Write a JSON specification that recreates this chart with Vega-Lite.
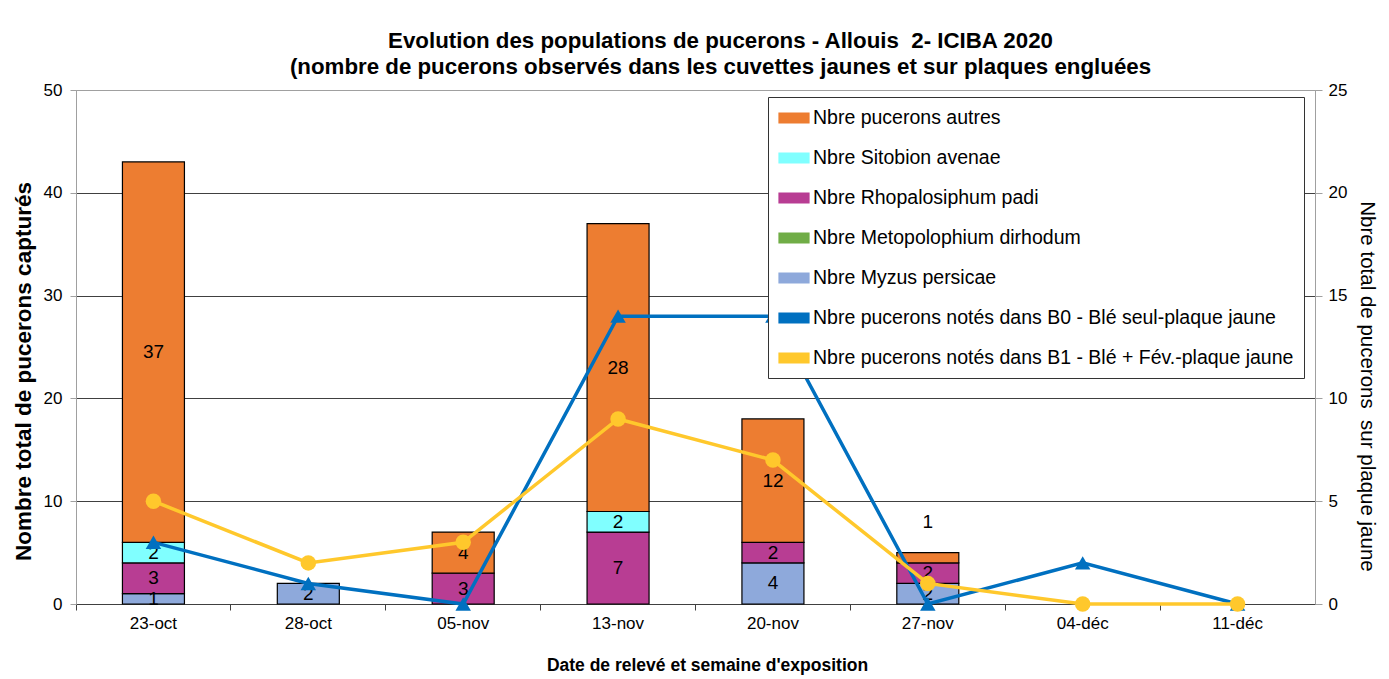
{
  "$schema": "https://vega.github.io/schema/vega-lite/v6.json",
  "width": 1239,
  "height": 514,
  "autosize": {"type": "none"},
  "padding": {"left": 76, "top": 90, "right": 74, "bottom": 75},
  "background": "white",
  "config": {
    "font": "Liberation Sans",
    "view": {"stroke": "#A0A0A0", "strokeWidth": 1}
  },
  "title": {
    "text": ["Evolution des populations de pucerons - Allouis \u00a02- ICIBA 2020", "(nombre de pucerons observés dans les cuvettes jaunes et sur plaques engluées"],
    "fontSize": 22.3,
    "fontWeight": "bold",
    "color": "black",
    "anchor": "middle",
    "dx": 25,
    "offset": 3,
    "lineHeight": 26
  },
  "datasets": {
    "barres": [
      {"date": "23-oct", "serie": "Nbre Myzus persicae", "valeur": 1},
      {"date": "23-oct", "serie": "Nbre Rhopalosiphum padi", "valeur": 3},
      {"date": "23-oct", "serie": "Nbre Sitobion avenae", "valeur": 2},
      {"date": "23-oct", "serie": "Nbre pucerons autres", "valeur": 37},
      {"date": "28-oct", "serie": "Nbre Myzus persicae", "valeur": 2},
      {"date": "05-nov", "serie": "Nbre Rhopalosiphum padi", "valeur": 3},
      {"date": "05-nov", "serie": "Nbre pucerons autres", "valeur": 4},
      {"date": "13-nov", "serie": "Nbre Rhopalosiphum padi", "valeur": 7},
      {"date": "13-nov", "serie": "Nbre Sitobion avenae", "valeur": 2},
      {"date": "13-nov", "serie": "Nbre pucerons autres", "valeur": 28},
      {"date": "20-nov", "serie": "Nbre Myzus persicae", "valeur": 4},
      {"date": "20-nov", "serie": "Nbre Rhopalosiphum padi", "valeur": 2},
      {"date": "20-nov", "serie": "Nbre pucerons autres", "valeur": 12},
      {"date": "27-nov", "serie": "Nbre Myzus persicae", "valeur": 2},
      {"date": "27-nov", "serie": "Nbre Rhopalosiphum padi", "valeur": 2},
      {"date": "27-nov", "serie": "Nbre pucerons autres", "valeur": 1}
    ],
    "courbes": [
      {"date": "23-oct", "serie": "Nbre pucerons notés dans B0 - Blé seul-plaque jaune", "valeur": 3},
      {"date": "28-oct", "serie": "Nbre pucerons notés dans B0 - Blé seul-plaque jaune", "valeur": 1},
      {"date": "05-nov", "serie": "Nbre pucerons notés dans B0 - Blé seul-plaque jaune", "valeur": 0},
      {"date": "13-nov", "serie": "Nbre pucerons notés dans B0 - Blé seul-plaque jaune", "valeur": 14},
      {"date": "20-nov", "serie": "Nbre pucerons notés dans B0 - Blé seul-plaque jaune", "valeur": 14},
      {"date": "27-nov", "serie": "Nbre pucerons notés dans B0 - Blé seul-plaque jaune", "valeur": 0},
      {"date": "04-déc", "serie": "Nbre pucerons notés dans B0 - Blé seul-plaque jaune", "valeur": 2},
      {"date": "11-déc", "serie": "Nbre pucerons notés dans B0 - Blé seul-plaque jaune", "valeur": 0},
      {"date": "23-oct", "serie": "Nbre pucerons notés dans B1 - Blé + Fév.-plaque jaune", "valeur": 5},
      {"date": "28-oct", "serie": "Nbre pucerons notés dans B1 - Blé + Fév.-plaque jaune", "valeur": 2},
      {"date": "05-nov", "serie": "Nbre pucerons notés dans B1 - Blé + Fév.-plaque jaune", "valeur": 3},
      {"date": "13-nov", "serie": "Nbre pucerons notés dans B1 - Blé + Fév.-plaque jaune", "valeur": 9},
      {"date": "20-nov", "serie": "Nbre pucerons notés dans B1 - Blé + Fév.-plaque jaune", "valeur": 7},
      {"date": "27-nov", "serie": "Nbre pucerons notés dans B1 - Blé + Fév.-plaque jaune", "valeur": 1},
      {"date": "04-déc", "serie": "Nbre pucerons notés dans B1 - Blé + Fév.-plaque jaune", "valeur": 0},
      {"date": "11-déc", "serie": "Nbre pucerons notés dans B1 - Blé + Fév.-plaque jaune", "valeur": 0}
    ]
  },
  "encoding": {
    "x": {
      "field": "date",
      "type": "nominal",
      "sort": ["23-oct", "28-oct", "05-nov", "13-nov", "20-nov", "27-nov", "04-déc", "11-déc"],
      "scale": {"domain": ["23-oct", "28-oct", "05-nov", "13-nov", "20-nov", "27-nov", "04-déc", "11-déc"], "paddingInner": 0, "paddingOuter": 0},
      "axis": {
        "title": "Date de relevé et semaine d'exposition",
        "titleFontSize": 17.5,
        "titleFontWeight": "bold",
        "titleColor": "black",
        "titlePadding": 25,
        "titleX": 631,
        "labelAngle": 0,
        "labelFontSize": 17,
        "labelColor": "black",
        "labelPadding": 5,
        "tickSize": 6,
        "tickColor": "#404040",
        "bandPosition": 0,
        "domainColor": "#404040",
        "grid": false
      }
    },
    "color": {
      "field": "serie",
      "type": "nominal",
      "scale": {
        "domain": ["Nbre pucerons autres", "Nbre Sitobion avenae", "Nbre Rhopalosiphum padi", "Nbre Metopolophium dirhodum", "Nbre Myzus persicae", "Nbre pucerons notés dans B0 - Blé seul-plaque jaune", "Nbre pucerons notés dans B1 - Blé + Fév.-plaque jaune"],
        "range": ["#ED7D31", "#80FFFF", "#B83D93", "#70AD47", "#8EA9DB", "#0070C0", "#FFC82C"]
      },
      "legend": {
        "title": null,
        "orient": "none",
        "legendX": 692,
        "legendY": 7,
        "fillColor": "white",
        "strokeColor": "#333333",
        "padding": 10,
        "labelFontSize": 19.5,
        "labelColor": "black",
        "labelLimit": 700,
        "symbolType": "M-1,-0.5H2V0.5H-1Z",
        "symbolSize": 400,
        "symbolStrokeColor": "#222222",
        "symbolStrokeWidth": 1.2,
        "symbolOpacity": 1,
        "labelOffset": 13,
        "rowPadding": 19
      }
    }
  },
  "layer": [
    {
      "data": {"name": "barres"},
      "transform": [
        {"calculate": "indexof(['Nbre Myzus persicae', 'Nbre Metopolophium dirhodum', 'Nbre Rhopalosiphum padi', 'Nbre Sitobion avenae', 'Nbre pucerons autres'], datum.serie)", "as": "ordre"},
        {"stack": "valeur", "groupby": ["date"], "sort": [{"field": "ordre", "order": "ascending"}], "as": ["y0", "y1"]},
        {"calculate": "(datum.y0 + datum.y1) / 2", "as": "ymid"}
      ],
      "encoding": {
        "y": {
          "field": "y0",
          "type": "quantitative",
          "scale": {"domain": [0, 50]},
          "axis": {
            "title": "Nombre total de pucerons capturés",
            "titleFontSize": 22.5,
            "titleFontWeight": "bold",
            "titleColor": "black",
            "titlePadding": 8,
            "titleY": 281,
            "values": [0, 10, 20, 30, 40, 50],
            "labelFontSize": 17,
            "labelColor": "black",
            "labelPadding": 8,
            "tickSize": 6,
            "tickColor": "#A0A0A0",
            "domainColor": "#A0A0A0",
            "grid": true,
            "gridColor": {"condition": {"test": "datum.value === 50", "value": "#A0A0A0"}, "value": "#404040"},
            "gridWidth": 1
          }
        }
      },
      "layer": [
        {
          "mark": {"type": "bar", "width": 62, "stroke": "black", "strokeWidth": 1.2},
          "encoding": {
            "y2": {"field": "y1"}
          }
        },
        {
          "transform": [{"filter": "!(datum.date === '27-nov' && datum.serie === 'Nbre pucerons autres')"}],
          "mark": {"type": "text", "fontSize": 19, "color": "black"},
          "encoding": {
            "y": {"field": "ymid", "type": "quantitative"},
            "text": {"field": "valeur", "type": "quantitative"},
            "color": {"value": "black"}
          }
        },
        {
          "transform": [{"filter": "datum.date === '27-nov' && datum.serie === 'Nbre pucerons autres'"}],
          "mark": {"type": "text", "fontSize": 19, "color": "black", "dy": -36},
          "encoding": {
            "y": {"field": "ymid", "type": "quantitative"},
            "text": {"field": "valeur", "type": "quantitative"},
            "color": {"value": "black"}
          }
        }
      ]
    },
    {
      "data": {"name": "courbes"},
      "encoding": {
        "y": {
          "field": "valeur",
          "type": "quantitative",
          "scale": {"domain": [0, 25]},
          "axis": {
            "orient": "right",
            "title": "Nbre total de pucerons \u00a0sur plaque jaune",
            "titleFontSize": 20.5,
            "titleFontWeight": "normal",
            "titleColor": "black",
            "titlePadding": 10,
            "titleY": 296,
            "values": [0, 5, 10, 15, 20, 25],
            "labelFontSize": 17,
            "labelColor": "black",
            "labelPadding": 6,
            "tickSize": 7,
            "tickColor": "#A0A0A0",
            "domainColor": "#A0A0A0",
            "grid": false
          }
        }
      },
      "layer": [
        {
          "mark": {"type": "line", "strokeWidth": 3.5},
          "encoding": {}
        },
        {
          "mark": {"type": "point", "filled": true, "opacity": 1},
          "encoding": {
            "shape": {
              "field": "serie",
              "type": "nominal",
              "scale": {"domain": ["Nbre pucerons notés dans B0 - Blé seul-plaque jaune", "Nbre pucerons notés dans B1 - Blé + Fév.-plaque jaune"], "range": ["triangle-up", "circle"]},
              "legend": null
            },
            "size": {"value": 240}
          }
        }
      ]
    }
  ],
  "resolve": {"scale": {"y": "independent"}}
}
